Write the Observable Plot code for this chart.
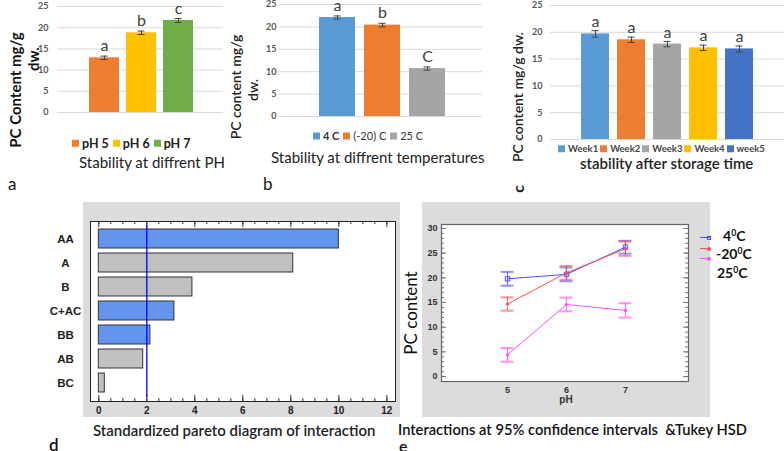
<!DOCTYPE html>
<html><head><meta charset="utf-8">
<script src="https://cdn.jsdelivr.net/npm/d3@7"></script>
<script src="https://cdn.jsdelivr.net/npm/@observablehq/plot@0.6"></script>
<style>
body{margin:0;background:#fff;}
#root{position:relative;width:784px;height:451px;overflow:hidden;font-family:Lato,"Open Sans",sans-serif;color:#222;}
.abs{position:absolute;white-space:nowrap;line-height:1;}
.rot{position:absolute;white-space:nowrap;line-height:1;transform:translate(-50%,-50%) rotate(-90deg);}
.sw{display:inline-block;width:7px;height:7px;margin-right:3px;vertical-align:middle;position:relative;top:-1px;}
svg{position:absolute;}
sup{font-size:0.62em;vertical-align:0.55em;line-height:0;}
</style></head><body><div id="root"></div>
<script>
// ---------- data ----------
const phCats = ["pH 5", "pH 6", "pH 7"];
const phValues = [12.9, 18.8, 21.7];
const phErrors = [0.4, 0.4, 0.45];
const phLetters = ["a", "b", "c"];

const tempCats = ["4 C", "(-20) C", "25 C"];
const tempValues = [22.1, 20.4, 10.7];
const tempErrors = [0.35, 0.4, 0.35];
const tempLetters = ["a", "b", "C"];

const weekCats = ["Week1", "Week2", "Week3", "Week4", "week5"];
const weekValues = [19.7, 18.6, 17.8, 17.1, 16.9];
const weekErrors = [0.6, 0.5, 0.5, 0.5, 0.55];
const weekLetters = ["a", "a", "a", "a", "a"];

const barTicks = [0, 5, 10, 15, 20, 25];

const paretoTerms = ["AA", "A", "B", "C+AC", "BB", "AB", "BC"];
const paretoEffects = [10.0, 8.1, 3.9, 3.15, 2.15, 1.85, 0.25];
const paretoSigns = ["+", "-", "-", "+", "+", "-", "-"];
const paretoCritical = 2.0;
const paretoTicks = [0, 2, 4, 6, 8, 10, 12];

const phLevels = [5, 6, 7];
const tempSeries = ["4C", "-20C", "25C"];
const pc4 = [19.8, 20.7, 26.2];
const pc4Half = [1.4, 1.4, 1.3];
const pcMinus20 = [14.7, 21.0, 25.9];
const pcMinus20Half = [1.35, 1.4, 1.45];
const pc25 = [4.4, 14.6, 13.4];
const pc25Half = [1.4, 1.4, 1.45];
const pcTicks = [0, 5, 10, 15, 20, 25, 30];

// ---------- helpers ----------
const root = document.getElementById("root");
function txt(html, x, y, style = "", anchor = "left") {
  const d = document.createElement("div");
  d.className = "abs";
  d.innerHTML = html;
  let tr = "translateY(-50%)";
  if (anchor === "middle") tr = "translate(-50%,-50%)";
  d.style.cssText = `left:${x}px;top:${y}px;transform:${tr};${style}`;
  root.appendChild(d);
  return d;
}
function rot(html, cx, cy, style = "") {
  const d = document.createElement("div");
  d.className = "rot";
  d.innerHTML = html;
  d.style.cssText = `left:${cx}px;top:${cy}px;${style}`;
  root.appendChild(d);
}
function box(x, y, w, h, style) {
  const d = document.createElement("div");
  d.style.cssText = `position:absolute;left:${x}px;top:${y}px;width:${w}px;height:${h}px;${style}`;
  root.appendChild(d);
}
function place(svg, left, top) {
  svg.style.left = left + "px";
  svg.style.top = top + "px";
  root.appendChild(svg);
}
function legend(cats, colors, x, y, style, gap, boldFirst) {
  return txt(cats.map((c, i) => `<span class="sw" style="background:${colors[i]}"></span><span style="margin-right:${gap}px;${boldFirst && i === 0 ? 'font-weight:bold' : ''}">${c}</span>`).join(""), x, y, style);
}

function barPanel(o) {
  const rows = o.cats.map((c, i) => ({cat: c, value: o.values[i], err: o.errors[i], letter: o.letters[i]}));
  const step = (o.range[1] - o.range[0]) / o.cats.length;
  const bw = step * (1 - o.padIn);
  const capInset = (bw - 7) / 2;
  return Plot.plot({
    width: o.width, height: o.height,
    marginLeft: o.mL, marginRight: o.mR, marginTop: o.mT, marginBottom: o.mB,
    style: {background: "transparent", overflow: "visible", fontFamily: "Lato, sans-serif"},
    x: {type: "band", domain: o.cats, range: o.range, paddingInner: o.padIn, paddingOuter: o.padIn / 2, axis: null},
    y: {domain: [0, 25], axis: null},
    color: {domain: o.cats, range: o.colors},
    marks: [
      Plot.ruleY(barTicks, {stroke: "#d9d9d9", strokeWidth: 1}),
      Plot.axisY(barTicks, {tickSize: 0, tickPadding: o.tickPad, fontSize: 9, fontWeight: "bold", fill: "#555", label: null}),
      Plot.barY(rows, {x: "cat", y: "value", fill: "cat"}),
      Plot.ruleX(rows, {x: "cat", y1: d => d.value - d.err, y2: d => d.value + d.err, stroke: "#444", strokeWidth: 1}),
      Plot.tickY(rows, {x: "cat", y: d => d.value + d.err, stroke: "#444", insetLeft: capInset, insetRight: capInset}),
      Plot.tickY(rows, {x: "cat", y: d => d.value - d.err, stroke: "#444", insetLeft: capInset, insetRight: capInset}),
      Plot.text(rows, {x: "cat", y: d => d.value + d.err, text: "letter", dy: o.letterDy, fontSize: 16, fill: "#404040", fontFamily: "Lato, sans-serif"})
    ]
  });
}

// ---------- panel a ----------
const colorsA = ["#ED7D31", "#FFC000", "#70AD47"];
place(barPanel({
  cats: phCats, values: phValues, errors: phErrors, letters: phLetters, colors: colorsA,
  width: 230, height: 120, mL: 57, mR: 7, mT: 6, mB: 8,
  range: [84.25, 196.75], padIn: 0.2, tickPad: 9, letterDy: -10
}), 0, 0);
rot("PC Content mg/g", 15, 90, "font-size:15px;font-weight:bold;color:#111;");
rot("dw.", 33, 59, "font-size:15px;font-weight:bold;color:#111;");
legend(phCats, colorsA, 72, 144, "font-size:12.5px;font-weight:bold;color:#222;", 4, false);
txt("Stability at diffrent PH", 79, 162, "font-size:15px;color:#222;");
txt("a", 8, 183, "font-size:17px;color:#111;");

// ---------- panel b ----------
const colorsB = ["#5B9BD5", "#ED7D31", "#A5A5A5"];
place(barPanel({
  cats: tempCats, values: tempValues, errors: tempErrors, letters: tempLetters, colors: colorsB,
  width: 230, height: 125, mL: 18, mR: 8, mT: 4, mB: 9,
  range: [54.5, 189.5], padIn: 0.2, tickPad: 2, letterDy: -10
}), 260, 0);
rot("PC content mg/g", 236, 87, "font-size:14px;font-weight:600;color:#222;");
rot("dw.", 253, 90, "font-size:14px;font-weight:600;color:#222;");
legend(tempCats, colorsB, 313, 135, "font-size:11px;color:#333;", 4, true);
txt("Stability at diffrent temperatures", 271, 157, "font-size:15px;color:#222;");
txt("b", 263, 183, "font-size:17px;color:#111;");

// ---------- panel c ----------
const colorsC = ["#5B9BD5", "#ED7D31", "#A5A5A5", "#FFC000", "#4472C4"];
place(barPanel({
  cats: weekCats, values: weekValues, errors: weekErrors, letters: weekLetters, colors: colorsC,
  width: 259, height: 145, mL: 25, mR: 0, mT: 5, mB: 6,
  range: [52.04, 232.04], padIn: 0.22, tickPad: 8, letterDy: -9
}), 525, 0);
rot("PC content mg/g dw.", 518, 97, "font-size:14px;font-weight:600;color:#222;");
rot("c", 518, 189, "font-size:16px;font-weight:bold;color:#222;");
legend(weekCats, colorsC, 558, 149, "font-size:9.5px;font-weight:bold;color:#444;", 2, false);
txt("stability after storage time", 580, 163, "font-size:15px;font-weight:600;color:#222;");

// ---------- panel d ----------
box(83, 202, 317, 215, "background:#dcdcdc;");
const pareto = paretoTerms.map((t, i) => ({term: t, effect: paretoEffects[i], sign: paretoSigns[i]}));
const minor = d3.range(0, 12.01, 0.5);
const major = d3.range(0, 12.01, 2);
const dFrameH = 215 - 19 - 16;
place(Plot.plot({
  width: 360, height: 215, marginLeft: 50, marginRight: 5, marginTop: 19, marginBottom: 16,
  style: {background: "transparent", overflow: "visible"},
  x: {domain: [-0.346, 12.36], axis: null},
  y: {type: "band", domain: paretoTerms, range: [23.57, 193.9], paddingInner: 0.2, paddingOuter: 0.1, axis: null},
  color: {domain: ["+", "-"], range: ["#6495ED", "#C0C0C0"]},
  marks: [
    Plot.frame({fill: "white"}),
    Plot.ruleX(minor, {stroke: "#333", insetBottom: dFrameH - 3}),
    Plot.ruleX(major, {stroke: "#333", insetBottom: dFrameH - 6}),
    Plot.ruleX(minor, {stroke: "#333", insetTop: dFrameH - 3}),
    Plot.ruleX(major, {stroke: "#333", insetTop: dFrameH - 6}),
    Plot.barX(pareto, {y: "term", x1: 0, x2: "effect", fill: "sign", stroke: "#333", strokeWidth: 1}),
    Plot.ruleX([paretoCritical], {stroke: "#0000ff", strokeWidth: 1.3, insetTop: 4, insetBottom: 4}),
    Plot.frame({stroke: "#222", strokeWidth: 1}),
    Plot.axisX(paretoTicks, {anchor: "bottom", tickSize: 0, tickPadding: 5, fontSize: 10, fontWeight: "bold", fontFamily: "Liberation Sans, Arial, sans-serif", fill: "#222", label: null}),
    Plot.axisY(paretoTerms, {anchor: "left", tickSize: 0, tickPadding: 25, textAnchor: "middle", fontSize: 11.5, fontWeight: "bold", fontFamily: "Liberation Sans, Arial, sans-serif", fill: "#222", label: null})
  ]
}), 40, 202);
txt("Standardized pareto diagram of interaction", 93, 430, "font-size:15px;font-weight:600;color:#222;");
txt("d", 49, 444, "font-size:17px;font-weight:600;color:#111;");

// ---------- panel e ----------
box(422, 202, 288, 215, "background:#dcdcdc;");
const seriesVals = [pc4, pcMinus20, pc25];
const seriesHalf = [pc4Half, pcMinus20Half, pc25Half];
const inter = tempSeries.flatMap((s, j) => phLevels.map((p, i) => ({series: s, ph: p, pc: seriesVals[j][i], half: seriesHalf[j][i]})));
const eColors = ["#4d4dff", "#ff4d4d", "#ff4dff"];
const eFrameW = 288 - 19 - 22;
const yMinor = d3.range(0, 30.01, 1);
const yMajor = d3.range(0, 30.01, 5);
const capHalf = 0.11;
place(Plot.plot({
  width: 288, height: 215, marginLeft: 19, marginRight: 22, marginTop: 22, marginBottom: 36,
  style: {background: "transparent", overflow: "visible"},
  x: {domain: [3.88, 8.07], axis: null},
  y: {domain: [-1.0, 30.8], axis: null},
  color: {domain: tempSeries, range: eColors},
  marks: [
    Plot.frame({fill: "white"}),
    Plot.ruleY(yMinor, {stroke: "#777", insetRight: eFrameW - 3}),
    Plot.ruleY(yMajor, {stroke: "#777", insetRight: eFrameW - 5}),
    Plot.ruleY(yMinor, {stroke: "#777", insetLeft: eFrameW - 3}),
    Plot.ruleY(yMajor, {stroke: "#777", insetLeft: eFrameW - 5}),
    Plot.ruleX(inter, {x: "ph", y1: d => d.pc - d.half, y2: d => d.pc + d.half, stroke: "series", strokeWidth: 1.2, strokeOpacity: 0.8}),
    Plot.ruleY(inter, {y: d => d.pc + d.half, x1: d => d.ph - capHalf, x2: d => d.ph + capHalf, stroke: "series", strokeWidth: 2, strokeOpacity: 0.6}),
    Plot.ruleY(inter, {y: d => d.pc - d.half, x1: d => d.ph - capHalf, x2: d => d.ph + capHalf, stroke: "series", strokeWidth: 2, strokeOpacity: 0.6}),
    Plot.line(inter, {x: "ph", y: "pc", stroke: "series", z: "series", strokeWidth: 1}),
    Plot.dot(inter.filter(d => d.series === "4C"), {x: "ph", y: "pc", symbol: "square", r: 2.5, stroke: "series", fill: "none", strokeWidth: 1}),
    Plot.dot(inter.filter(d => d.series !== "4C"), {x: "ph", y: "pc", r: 1.6, fill: "series"}),
    Plot.frame({stroke: "#666", strokeWidth: 1.2}),
    Plot.axisY(pcTicks, {anchor: "left", tickSize: 0, tickPadding: 4, fontSize: 9, fontWeight: "bold", fontFamily: "Liberation Sans, Arial, sans-serif", fill: "#333", label: null}),
    Plot.axisX(phLevels, {anchor: "bottom", tickSize: 0, tickPadding: 5, fontSize: 9, fontWeight: "bold", fontFamily: "Liberation Sans, Arial, sans-serif", fill: "#333", label: null})
  ]
}), 422, 202);
txt("pH", 566, 400, "font-size:10px;font-weight:bold;font-family:'Liberation Sans',Arial,sans-serif;color:#333;", "middle");
rot("PC content", 410, 313, "font-size:17px;color:#111;");
// legend e
const legY = [237, 248, 258];
eColors.forEach((c, i) => {
  box(700, legY[i], 11, 1.2, `background:${c};`);
  box(707, legY[i] - 1.5, 4, 4, i === 0 ? `border:1px solid ${c};box-sizing:border-box;` : `background:${c};border-radius:2px;`);
});
txt("4<sup>0</sup>C", 723, 236, "font-size:14px;font-weight:bold;color:#111;");
txt("-20<sup>0</sup>C", 716, 254, "font-size:14px;font-weight:bold;color:#111;");
txt("25<sup>0</sup>C", 717, 273, "font-size:14px;font-weight:bold;color:#111;");
txt("Interactions at 95% confidence intervals &nbsp;&amp;Tukey HSD", 398, 429, "font-size:14.7px;font-weight:600;color:#111;");
txt("e", 399, 446, "font-size:16px;font-weight:600;color:#111;");
</script></body></html>
